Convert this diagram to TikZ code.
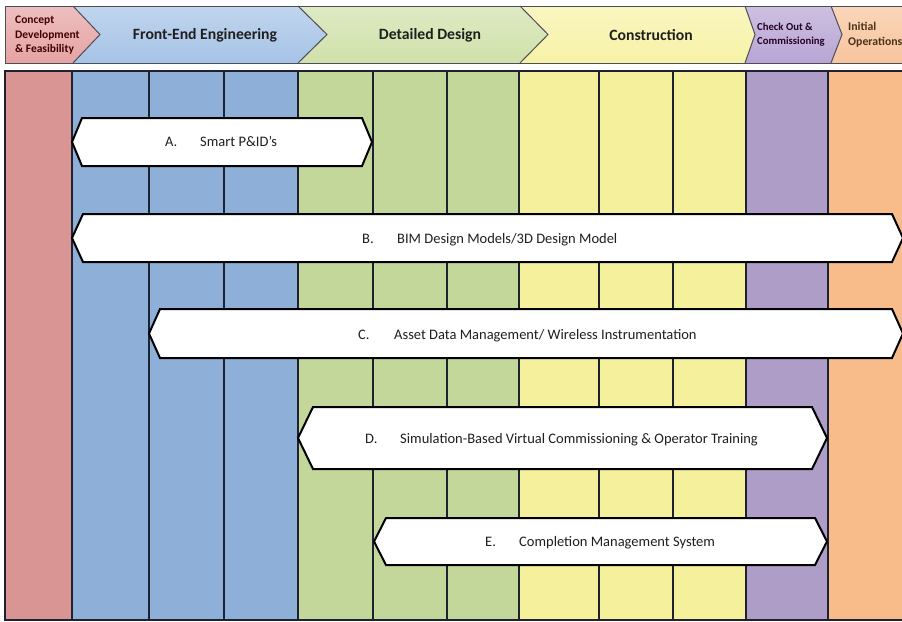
\documentclass[tikz,border=0pt]{standalone}
\usepackage{fontspec}
\setmainfont{Carlito}
\definecolor{mpink}{HTML}{D99594}
\definecolor{mblue}{HTML}{8EB0D8}
\definecolor{mgreen}{HTML}{C3D79B}
\definecolor{myellow}{HTML}{F5F09C}
\definecolor{mpurple}{HTML}{AE9DC7}
\definecolor{morange}{HTML}{F7BC89}
\definecolor{hpink}{HTML}{E6A3A3}
\definecolor{hblue}{HTML}{A6C3E6}
\definecolor{hgreen}{HTML}{D0E1AA}
\definecolor{hyellow}{HTML}{F7F2A6}
\definecolor{hpurple}{HTML}{B8A5D4}
\definecolor{horange}{HTML}{F8C49C}
\definecolor{txt}{HTML}{1F1F1F}
\definecolor{edge}{HTML}{1E2230}
\newcommand\hexbar[5]{%
  \draw[barline] (#1,{(#3+#4)/2}) -- (#1+#5,#3) -- (#2-#5,#3) -- (#2,{(#3+#4)/2}) -- (#2-#5,#4) -- (#1+#5,#4) -- cycle;}
\begin{document}
\begin{tikzpicture}[x=1pt,y=-1pt,line join=miter,
  colline/.style={draw=edge,line width=1.3pt},
  hdrline/.style={draw=edge!80,line width=1pt},
  barline/.style={draw=black,line width=2pt,fill=white},
  lbl/.style={font=\fontsize{14.5}{17}\selectfont,text=txt,inner sep=0pt,anchor=base west},
  htitle/.style={font=\fontsize{15.7}{18}\selectfont\bfseries,text=txt,inner sep=0pt},
  hsmall/.style={font=\fontsize{11.5}{14.5}\selectfont\bfseries,text=txt,inner sep=0pt,align=left,anchor=west}]
\useasboundingbox (0,0) rectangle (902,621);
\fill[white] (0,0) rectangle (902,621);
% ---- header chevrons
\shade[top color=hpink!70!white,bottom color=hpink] (5,6) -- (73,6) -- (100,34.5) -- (73,63) -- (5,63) -- cycle;
\shade[top color=hblue!70!white,bottom color=hblue] (73,6) -- (298,6) -- (327,34.5) -- (298,63) -- (73,63) -- (100,34.5) -- cycle;
\shade[top color=hgreen!70!white,bottom color=hgreen] (298,6) -- (520,6) -- (548,34.5) -- (520,63) -- (298,63) -- (327,34.5) -- cycle;
\shade[top color=hyellow!70!white,bottom color=hyellow] (520,6) -- (745,6) -- (755,34.5) -- (745,63) -- (520,63) -- (548,34.5) -- cycle;
\shade[top color=hpurple!70!white,bottom color=hpurple] (745,6) -- (831,6) -- (842,34.5) -- (831,63) -- (745,63) -- (755,34.5) -- cycle;
\shade[top color=horange!70!white,bottom color=horange] (831,6) -- (905,6) -- (905,63) -- (831,63) -- (842,34.5) -- cycle;
\draw[hdrline] (905,6) -- (5,6) -- (5,63) -- (905,63);
\draw[hdrline] (73,6) -- (100,34.5) -- (73,63);
\draw[hdrline] (298,6) -- (327,34.5) -- (298,63);
\draw[hdrline] (520,6) -- (548,34.5) -- (520,63);
\draw[hdrline] (745,6) -- (755,34.5) -- (745,63);
\draw[hdrline] (831,6) -- (842,34.5) -- (831,63);
\node[hsmall,text=red!25!black] (h1) at (15,35.5) {Concept\\Development\\\& Feasibility};
\node[htitle] (h2) at (205,35) {Front-End Engineering};
\node[htitle] (h3) at (430,35) {Detailed Design};
\node[htitle] (h4) at (651,35) {Construction};
\node[hsmall,font=\fontsize{10.7}{14}\selectfont\bfseries,text=violet!30!black] (h5) at (757,35) {Check Out \&\\Commissioning};
\node[hsmall,font=\fontsize{11.8}{15}\selectfont\bfseries,text=brown!40!black] (h6) at (848,35) {Initial\\Operations};
% ---- main columns
\fill[mpink] (5,71) rectangle (72,620);
\fill[mblue] (72,71) rectangle (298,620);
\fill[mgreen] (298,71) rectangle (519,620);
\fill[myellow] (519,71) rectangle (746,620);
\fill[mpurple] (746,71) rectangle (828,620);
\fill[morange] (828,71) rectangle (905,620);
\foreach \x in {72,149,224,298,373,447,519,599,673,746,828} \draw[colline] (\x,71) -- (\x,620);
\draw[colline] (905,71) -- (5,71) -- (5,620) -- (905,620);
% ---- bars
\hexbar{72}{372}{118}{166}{10}
\hexbar{72}{903}{214}{262}{11}
\hexbar{149}{903}{309}{358}{11}
\hexbar{298}{827}{407}{469}{15}
\hexbar{374}{827}{518}{565}{12}
\node[lbl] (la) at (165,146.5) {A.};
\node[lbl] (ta) at (200,146.5) {Smart P\&ID’s};
\node[lbl] (lb) at (362,243.5) {B.};
\node[lbl] (tb) at (397,243.5) {BIM Design Models/3D Design Model};
\node[lbl] (lc) at (358,339.5) {C.};
\node[lbl] (tc) at (394,339.5) {Asset Data Management/ Wireless Instrumentation};
\node[lbl] (ld) at (365,443.5) {D.};
\node[lbl] (td) at (400,443.5) {Simulation-Based Virtual Commissioning \& Operator Training};
\node[lbl] (le) at (485,546.5) {E.};
\node[lbl] (te) at (519,546.5) {Completion Management System};
\end{tikzpicture}
\end{document}
